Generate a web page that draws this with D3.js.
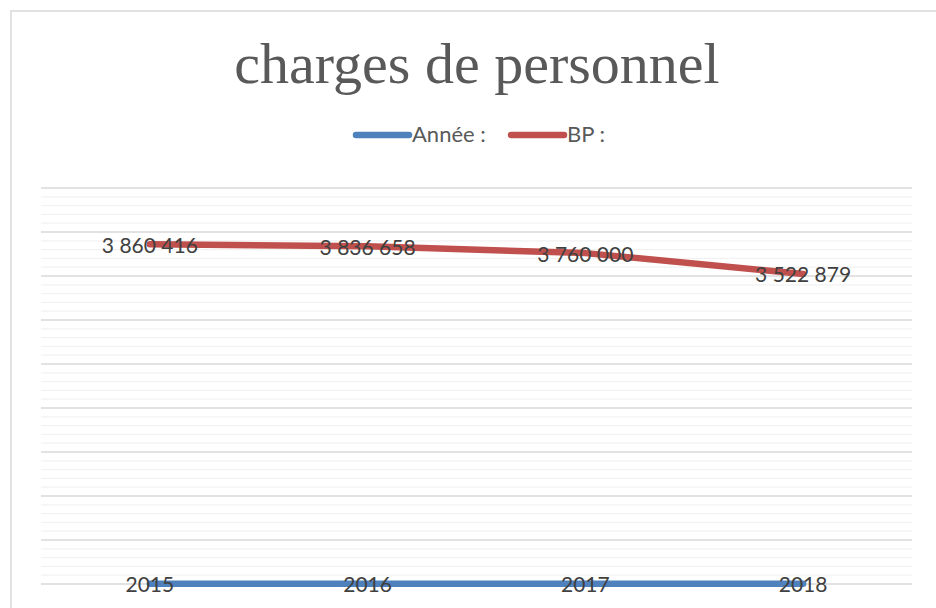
<!DOCTYPE html>
<html>
<head>
<meta charset="utf-8">
<script src="https://cdnjs.cloudflare.com/ajax/libs/d3/7.8.5/d3.min.js"></script>
<style>
  body { margin: 0; background: #fff; }
  svg { display: block; }
</style>
</head>
<body>
<script>
// data
const years = ["2015", "2016", "2017", "2018"]
const anneeValues = [2015, 2016, 2017, 2018]   // the "Année :" series (plotted as values)
const bpValues = [3860416, 3836658, 3760000, 3522879]
const seriesNames = ["Année :", "BP :"]
const seriesColors = ["#4f81bd", "#c0504d"]

const w = 936
const h = 608
const plotLeft = 41, plotRight = 912, plotTop = 188, plotBottom = 584

const svg = d3.select("body")
    .append("svg")
    .attr("width", w)
    .attr("height", h)

// chart frame (right and bottom edges run off the page)
svg.append("rect")
    .attr("x", 11)
    .attr("y", 11)
    .attr("width", w)
    .attr("height", h)
    .attr("fill", "none")
    .attr("stroke", "#d9d9d9")
    .attr("stroke-width", 1.5)

const x = d3.scalePoint()
    .domain(years)
    .range([plotLeft, plotRight])
    .padding(0.5)

const y = d3.scaleLinear()
    .domain([0, 4500000])
    .range([plotBottom, plotTop])

// minor gridlines every 100 000
svg.append("g")
    .selectAll("line")
    .data(d3.range(0, 4500001, 100000).filter(v => v % 500000 !== 0))
    .enter()
    .append("line")
    .attr("x1", plotLeft)
    .attr("x2", plotRight)
    .attr("y1", d => y(d))
    .attr("y2", d => y(d))
    .attr("stroke", "#f2f2f2")
    .attr("stroke-width", 1.3)

// major gridlines every 500 000
svg.append("g")
    .selectAll("line")
    .data(y.ticks(9))
    .enter()
    .append("line")
    .attr("x1", plotLeft)
    .attr("x2", plotRight)
    .attr("y1", d => y(d))
    .attr("y2", d => y(d))
    .attr("stroke", "#d9d9d9")
    .attr("stroke-width", 1.3)

const line = d3.line()
    .x(d => x(d.cat))
    .y(d => y(d.value))

const series = [
    { name: seriesNames[0], color: seriesColors[0], points: years.map((c, i) => ({ cat: c, value: anneeValues[i] })) },
    { name: seriesNames[1], color: seriesColors[1], points: years.map((c, i) => ({ cat: c, value: bpValues[i] })) }
]

svg.append("g")
    .selectAll("path")
    .data(series)
    .enter()
    .append("path")
    .attr("d", d => line(d.points))
    .attr("fill", "none")
    .attr("stroke", d => d.color)
    .attr("stroke-width", 6.5)
    .attr("stroke-linecap", "round")
    .attr("stroke-linejoin", "round")

// data labels, centred on the points
const fmt = v => d3.format(",")(v).replace(/,/g, " ")
const labels = series.flatMap(s => s.points.map(p => ({
    x: x(p.cat),
    y: y(p.value),
    text: s.name === "Année :" ? String(p.value) : fmt(p.value)
})))

svg.append("g")
    .selectAll("text")
    .data(labels)
    .enter()
    .append("text")
    .attr("x", d => d.x)
    .attr("y", d => d.y + 8.5)
    .attr("text-anchor", "middle")
    .style("font-family", "Lato, 'Open Sans', sans-serif")
    .style("font-size", "21px")
    .style("fill", "#404040")
    .text(d => d.text)

// title
svg.append("text")
    .attr("x", 477)
    .attr("y", 83)
    .attr("text-anchor", "middle")
    .style("font-family", "'Liberation Serif', serif")
    .style("font-size", "58px")
    .style("fill", "#595959")
    .text("charges de personnel")

// legend
const legendX = [353, 508]
const legend = svg.append("g")
    .selectAll("g")
    .data(series)
    .enter()
    .append("g")
    .attr("transform", (d, i) => "translate(" + legendX[i] + ",135)")

legend.append("line")
    .attr("x1", 3)
    .attr("x2", 56)
    .attr("stroke", d => d.color)
    .attr("stroke-width", 6.5)
    .attr("stroke-linecap", "round")

legend.append("text")
    .attr("x", 59)
    .attr("y", 7)
    .style("font-family", "Lato, 'Open Sans', sans-serif")
    .style("font-size", "22px")
    .style("fill", "#595959")
    .text(d => d.name)
</script>
</body>
</html>
